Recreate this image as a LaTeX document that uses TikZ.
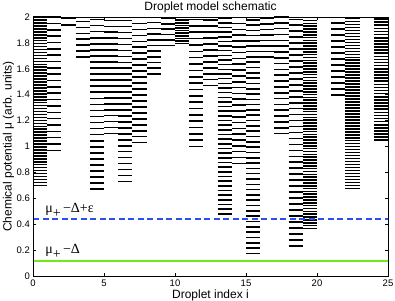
\documentclass[tikz,border=0pt]{standalone}
\usepackage{fontspec}
\setmainfont{Liberation Sans}
\newfontfamily\greekserif{Liberation Serif}
\usepackage{tikz}

\definecolor{potgreen}{RGB}{110,235,20}
\definecolor{potblue}{RGB}{40,80,245}

\begin{document}
\begin{tikzpicture}[x=14.2pt, y=129.5pt,
        levelbar/.style={line width=1.6pt},
        ticklabel/.style={font=\fontsize{9.5}{11}\selectfont, inner sep=0pt},
        axislabel/.style={font=\fontsize{12}{14}\selectfont, inner sep=0pt},
        potlabel/.style={font=\greekserif\fontsize{14}{16}\selectfont, inner sep=0pt}]

        \useasboundingbox (-33pt,-24pt) rectangle (362pt,276pt);

        % Levels of each droplet: index/lowest level/spacing/count
        \foreach \col/\lo/\dmu/\n in {0/0.70/0.0228/57, 1/0.97/0.049/21,
            2/1.94/0.05/1, 3/1.69/0.046/6, 4/0.67/0.0468/28, 5/1.10/0.046/19,
            6/0.73/0.046/27, 7/1.03/0.046/21, 8/1.56/0.044/9, 9/1.78/0.042/5,
            10/1.795/0.02/10, 11/1.00/0.049/20, 12/1.47/0.046/11,
            13/0.48/0.036/42, 14/0.87/0.045/25, 15/0.175/0.041/44,
            16/1.69/0.043/7, 17/1.10/0.045/20, 18/0.234/0.046/38,
            19/0.367/0.022/74, 21/1.40/0.046/12, 22/0.677/0.023/57,
            23/1.995/0.02/0, 24/1.048/0.024/39}
            \foreach \k in {0,...,\n}
                \draw[levelbar] (\col,\lo+\k*\dmu) -- ++(1,0);

        % Reference potentials
        \draw[draw=potblue, line width=1.8pt, dash pattern=on 6pt off 3.5pt] (0,0.438) -- (25,0.438);
        \draw[draw=potgreen, line width=1.8pt] (0,0.118) -- (25,0.118);
        \node[potlabel, anchor=base west] (upperpot) at (0.85,0.494) {μ\raisebox{-5pt}{+}\,−Δ+ε};
        \node[potlabel, anchor=base west] (lowerpot) at (0.85,0.174) {μ\raisebox{-5pt}{+}\,−Δ};

        % Axes box and ticks
        \draw[line width=0.6pt] (0,0) rectangle (25,2);
        \foreach \v [count=\i] in {0,0.2,0.4,0.6,0.8,1,1.2,1.4,1.6,1.8,2} {
            \draw[line width=0.5pt] (0,\v) -- ++(3pt,0);
            \draw[line width=0.5pt] (25,\v) -- ++(-3pt,0);
            \node[ticklabel, anchor=east] (ytick\i) at ([xshift=-3pt]0,\v) {\v};
        }
        \foreach \x in {0,5,...,25} {
            \draw[line width=0.5pt] (\x,0) -- ++(0,3pt);
            \draw[line width=0.5pt] (\x,2) -- ++(0,-3pt);
            \node[ticklabel, anchor=north] (xtick\x) at ([yshift=-4pt]\x,0) {\x};
        }

        % Title and axis labels
        \node[axislabel, anchor=base] (title) at (12.5,2.054) {Droplet model schematic};
        \node[axislabel, anchor=base] (xlabel) at (12.5,-0.170) {Droplet index i};
        \node[axislabel, anchor=base, rotate=90] (ylabel) at (-1.5,1.0) {Chemical potential μ (arb. units)};

    \end{tikzpicture}
\end{document}
